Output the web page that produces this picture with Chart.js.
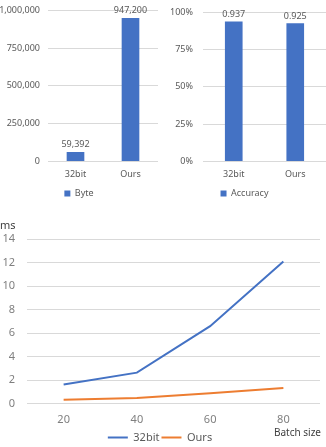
<!DOCTYPE html>
<html>
<head>
<meta charset="utf-8">
<script src="https://cdn.jsdelivr.net/npm/chart.js@4.4.1/dist/chart.umd.min.js"></script>
<style>
    body { margin: 0; background: #fff; width: 326px; height: 447px; position: relative; overflow: hidden; }
    .box { position: absolute; }
</style>
</head>
<body>
<div class="box" style="left:0;top:-3px;width:163px;height:211px"><canvas id="byteChart"></canvas></div>
<div class="box" style="left:163px;top:-3px;width:163px;height:211px"><canvas id="accChart"></canvas></div>
<div class="box" style="left:0;top:206px;width:326px;height:247px"><canvas id="timeChart"></canvas></div>
<script>
const models = ['32bit', 'Ours'];
const byteValues = [59392, 947200];
const accValues = [0.937, 0.925];
const batchSizes = ['20', '40', '60', '80'];
const time32bit = [1.65, 2.65, 6.6, 12.1];
const timeOurs = [0.35, 0.5, 0.9, 1.35];

const BLUE = '#4472C4';
const ORANGE = '#ED7D31';
const TEXT = '#595959';
const GRID = '#D9D9D9';
const FONT = '"Noto Sans", sans-serif';

Chart.defaults.font.family = FONT;
Chart.defaults.color = TEXT;

// draws the value above each bar
function makeValueLabels(fmt) {
    return {
        id: 'valueLabels',
        afterDatasetsDraw(chart) {
            const ctx = chart.ctx;
            const data = chart.data.datasets[0].data;
            ctx.save();
            ctx.font = '9px ' + FONT;
            ctx.fillStyle = TEXT;
            ctx.textAlign = 'center';
            ctx.textBaseline = 'bottom';
            chart.getDatasetMeta(0).data.forEach((bar, i) => {
                ctx.fillText(fmt(data[i]), bar.x, bar.y - 3);
            });
            ctx.restore();
        }
    };
}

function barChart(id, label, values, yOpts, fmt, axisWidth, padRight) {
    return new Chart(document.getElementById(id), {
        type: 'bar',
        data: {
            labels: models,
            datasets: [{
                label: label,
                data: values,
                backgroundColor: BLUE,
                barThickness: 17
            }]
        },
        options: {
            responsive: true,
            maintainAspectRatio: false,
            animation: false,
            layout: { padding: { top: 0, right: padRight } },
            plugins: {
                legend: {
                    position: 'bottom',
                    labels: { boxWidth: 6, boxHeight: 6, padding: 6, font: { size: 9 }, color: TEXT }
                },
                tooltip: { enabled: false }
            },
            scales: {
                x: {
                    grid: { display: false },
                    border: { display: false },
                    ticks: { font: { size: 9 }, color: TEXT, padding: 0 },
                    afterFit: s => { s.height += 3; }
                },
                y: Object.assign({
                    min: 0,
                    grid: { color: GRID, drawTicks: false },
                    border: { display: false },
                    afterFit: s => { s.width = axisWidth; }
                }, yOpts)
            }
        },
        plugins: [makeValueLabels(fmt)]
    });
}

barChart('byteChart', 'Byte', byteValues, {
    max: 1000000,
    ticks: { stepSize: 250000, font: { size: 9 }, color: TEXT, padding: 8,
        callback: v => v.toLocaleString('en-US') }
}, v => v.toLocaleString('en-US'), 48, 5);

barChart('accChart', 'Accuracy', accValues, {
    max: 1,
    ticks: { stepSize: 0.25, font: { size: 9 }, color: TEXT, padding: 10,
        callback: v => Math.round(v * 100) + '%' }
}, v => v.toFixed(3), 40, 0);

const batchLabel = {
    id: 'batchLabel',
    afterDraw(chart) {
        const ctx = chart.ctx;
        ctx.save();
        ctx.font = '10px ' + FONT;
        ctx.fillStyle = '#404040';
        ctx.textAlign = 'right';
        ctx.textBaseline = 'middle';
        ctx.fillText('Batch size', 321, 227);
        ctx.restore();
    }
};

new Chart(document.getElementById('timeChart'), {
    type: 'line',
    data: {
        labels: batchSizes,
        datasets: [
            { label: '32bit', data: time32bit, borderColor: BLUE, backgroundColor: BLUE,
              borderWidth: 2, pointRadius: 0, pointStyle: 'line', pointBorderWidth: 2 },
            { label: 'Ours', data: timeOurs, borderColor: ORANGE, backgroundColor: ORANGE,
              borderWidth: 2, pointRadius: 0, pointStyle: 'line', pointBorderWidth: 2 }
        ]
    },
    options: {
        responsive: true,
        maintainAspectRatio: false,
        animation: false,
        layout: { padding: { right: 6, bottom: 0 } },
        plugins: {
            title: {
                display: true, text: 'ms', align: 'start',
                font: { size: 11, weight: 'normal' }, color: '#404040',
                padding: { top: 13, bottom: 7 }
            },
            legend: {
                position: 'bottom',
                labels: { usePointStyle: true, pointStyleWidth: 20, boxHeight: 8, padding: 2,
                    font: { size: 11 }, color: TEXT }
            },
            tooltip: { enabled: false }
        },
        scales: {
            x: {
                offset: true,
                grid: { display: false },
                border: { display: false },
                ticks: { font: { size: 11 }, color: '#7f7f7f', padding: 1 },
                afterFit: s => { s.height += 3; }
            },
            y: {
                min: 0, max: 14,
                ticks: { stepSize: 2, font: { size: 11 }, color: '#7f7f7f', padding: 12 },
                grid: { color: GRID, drawTicks: false },
                border: { display: false },
                afterFit: s => { s.width = 27; }
            }
        }
    },
    plugins: [batchLabel]
});
</script>
</body>
</html>
